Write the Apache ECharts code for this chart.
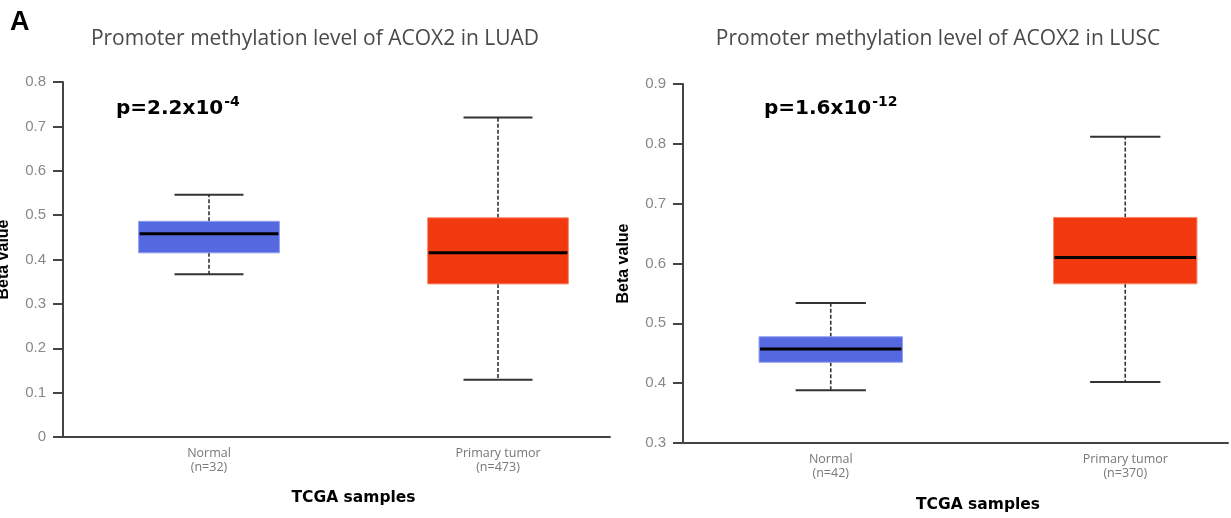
<!DOCTYPE html>
<html>
<head>
<meta charset="utf-8">
<script src="https://cdn.jsdelivr.net/npm/echarts@6/dist/echarts.min.js"></script>
<style>
html,body{margin:0;padding:0;background:#fff;}
#chart{width:1231px;height:518px;}
</style>
</head>
<body>
<div id="chart"></div>
<script>
// ---- data ----
const luadCategories = ['Normal\n(n=32)', 'Primary tumor\n(n=473)'];
// [min, Q1, median, Q3, max]
const luadNormal = [0.367, 0.415, 0.458, 0.486, 0.546];
const luadTumor  = [0.129, 0.345, 0.415, 0.494, 0.720];
const luscCategories = ['Normal\n(n=42)', 'Primary tumor\n(n=370)'];
const luscNormal = [0.388, 0.435, 0.457, 0.4775, 0.534];
const luscTumor  = [0.402, 0.566, 0.610, 0.677, 0.812];
const luadTitle = 'Promoter methylation level of ACOX2 in LUAD';
const luscTitle = 'Promoter methylation level of ACOX2 in LUSC';
const luadP = ['p=2.2x10', '-4'];
const luscP = ['p=1.6x10', '-12'];
const luadYTicks = {min: 0, max: 0.8, interval: 0.1};
const luscYTicks = {min: 0.3, max: 0.9, interval: 0.1};

// ---- styling ----
const fills = ['#5468e0', '#f2380f'];
const strokes = ['#8f9cf0', '#f88a6e'];
const axisColor = '#444';
const tickLabelColor = '#888';

function boxItem(params, api) {
  const cat = api.value(0);
  const mn = api.value(1), q1 = api.value(2), md = api.value(3), q3 = api.value(4), mx = api.value(5);
  const x = api.coord([cat, md])[0];
  const band = api.size([1, 0])[0];
  const bw = band * 0.487;
  const cw = bw * 0.49;
  const yMin = api.coord([cat, mn])[1];
  const yQ1 = api.coord([cat, q1])[1];
  const yMd = api.coord([cat, md])[1];
  const yQ3 = api.coord([cat, q3])[1];
  const yMax = api.coord([cat, mx])[1];
  const ci = params.dataIndex;
  const dash = {stroke: '#333', lineWidth: 1.6, lineDash: [4, 2]};
  const cap = {stroke: '#333', lineWidth: 2};
  return {
    type: 'group',
    children: [
      {type: 'line', shape: {x1: x, y1: yQ3, x2: x, y2: yMax}, style: dash},
      {type: 'line', shape: {x1: x, y1: yQ1, x2: x, y2: yMin}, style: dash},
      {type: 'line', shape: {x1: x - cw / 2, y1: yMax, x2: x + cw / 2, y2: yMax}, style: cap},
      {type: 'line', shape: {x1: x - cw / 2, y1: yMin, x2: x + cw / 2, y2: yMin}, style: cap},
      {type: 'rect', shape: {x: x - bw / 2, y: yQ3, width: bw, height: yQ1 - yQ3},
       style: {fill: fills[ci], stroke: strokes[ci], lineWidth: 1}},
      {type: 'line', shape: {x1: x - bw / 2 + 1, y1: yMd, x2: x + bw / 2 - 1, y2: yMd},
       style: {stroke: '#000', lineWidth: 3}}
    ]
  };
}

function frameX(gi) {
  return {gridIndex: gi, type: 'value', min: 0, max: 1,
    axisLine: {show: true, lineStyle: {color: axisColor, width: 2}},
    axisTick: {show: false}, axisLabel: {show: false}, splitLine: {show: false}};
}
function frameY(gi, t) {
  return {gridIndex: gi, type: 'value', min: t.min, max: t.max, interval: t.interval,
    name: 'Beta value', nameLocation: 'middle', nameGap: 51,
    nameTextStyle: {fontFamily: 'Liberation Sans, Arial', fontWeight: 'bold', fontSize: 16, color: '#000'},
    axisLine: {show: true, lineStyle: {color: axisColor, width: 2}},
    axisTick: {show: true, inside: false, length: 10, lineStyle: {color: axisColor, width: 2}},
    axisLabel: {margin: 17, color: tickLabelColor, fontSize: 15, fontFamily: 'Liberation Sans, Arial',
      formatter: v => String(Math.round(v * 10) / 10)},
    splitLine: {show: false}};
}
function boxX(gi, cats, gap) {
  return {gridIndex: gi, type: 'category', data: cats,
    name: 'TCGA samples', nameLocation: 'middle', nameGap: gap,
    nameTextStyle: {fontFamily: 'DejaVu Sans', fontWeight: 'bold', fontSize: 15.5, color: '#000'},
    axisLine: {show: false}, axisTick: {show: false},
    axisLabel: {margin: 9, color: '#777', fontSize: 12.5, lineHeight: 14, fontFamily: 'Open Sans'},
    splitLine: {show: false}};
}
function boxY(gi, t) {
  return {gridIndex: gi, type: 'value', min: t.min, max: t.max, show: false, splitLine: {show: false}};
}
function pTitle(p, left) {
  return {text: '{b|' + p[0] + '}{s|' + p[1] + '}', left: left, top: 95, padding: 0,
    textStyle: {rich: {
      b: {fontFamily: 'DejaVu Sans', fontWeight: 'bold', fontSize: 20, color: '#000', lineHeight: 27},
      s: {fontFamily: 'DejaVu Sans', fontWeight: 'bold', fontSize: 14, color: '#000', lineHeight: 20, verticalAlign: 'top', padding: [0, 0, 0, 1]}
    }}};
}

const chart = echarts.init(document.getElementById('chart'), null, {renderer: 'canvas'});
chart.setOption({
  animation: false,
  backgroundColor: '#fff',
  title: [
    {text: 'A', left: 10, top: 9, padding: 0,
     textStyle: {fontFamily: 'Liberation Sans, Arial', fontWeight: 'bold', fontSize: 27, color: '#000'}},
    {text: luadTitle, left: 315, top: 29, padding: 0, textAlign: 'center',
     textStyle: {fontFamily: 'Open Sans', fontWeight: 'normal', fontSize: 21, color: '#4a4a4a'}},
    {text: luscTitle, left: 938, top: 29, padding: 0, textAlign: 'center',
     textStyle: {fontFamily: 'Open Sans', fontWeight: 'normal', fontSize: 21, color: '#4a4a4a'}},
    pTitle(luadP, 116),
    pTitle(luscP, 764)
  ],
  grid: [
    {left: 63, top: 82, width: 547, height: 355, outerBoundsMode: 'none', containLabel: false},
    {left: 64.5, top: 82, width: 578, height: 355, outerBoundsMode: 'none', containLabel: false},
    {left: 683, top: 84, width: 545, height: 359, outerBoundsMode: 'none', containLabel: false},
    {left: 683.5, top: 84, width: 589, height: 359, outerBoundsMode: 'none', containLabel: false}
  ],
  xAxis: [frameX(0), boxX(1, luadCategories, 53), frameX(2), boxX(3, luscCategories, 54)],
  yAxis: [frameY(0, luadYTicks), boxY(1, luadYTicks), frameY(2, luscYTicks), boxY(3, luscYTicks)],
  series: [
    {type: 'custom', xAxisIndex: 1, yAxisIndex: 1, renderItem: boxItem, clip: false,
     data: [[0].concat(luadNormal), [1].concat(luadTumor)]},
    {type: 'custom', xAxisIndex: 3, yAxisIndex: 3, renderItem: boxItem, clip: false,
     data: [[0].concat(luscNormal), [1].concat(luscTumor)]}
  ]
});
</script>
</body>
</html>
